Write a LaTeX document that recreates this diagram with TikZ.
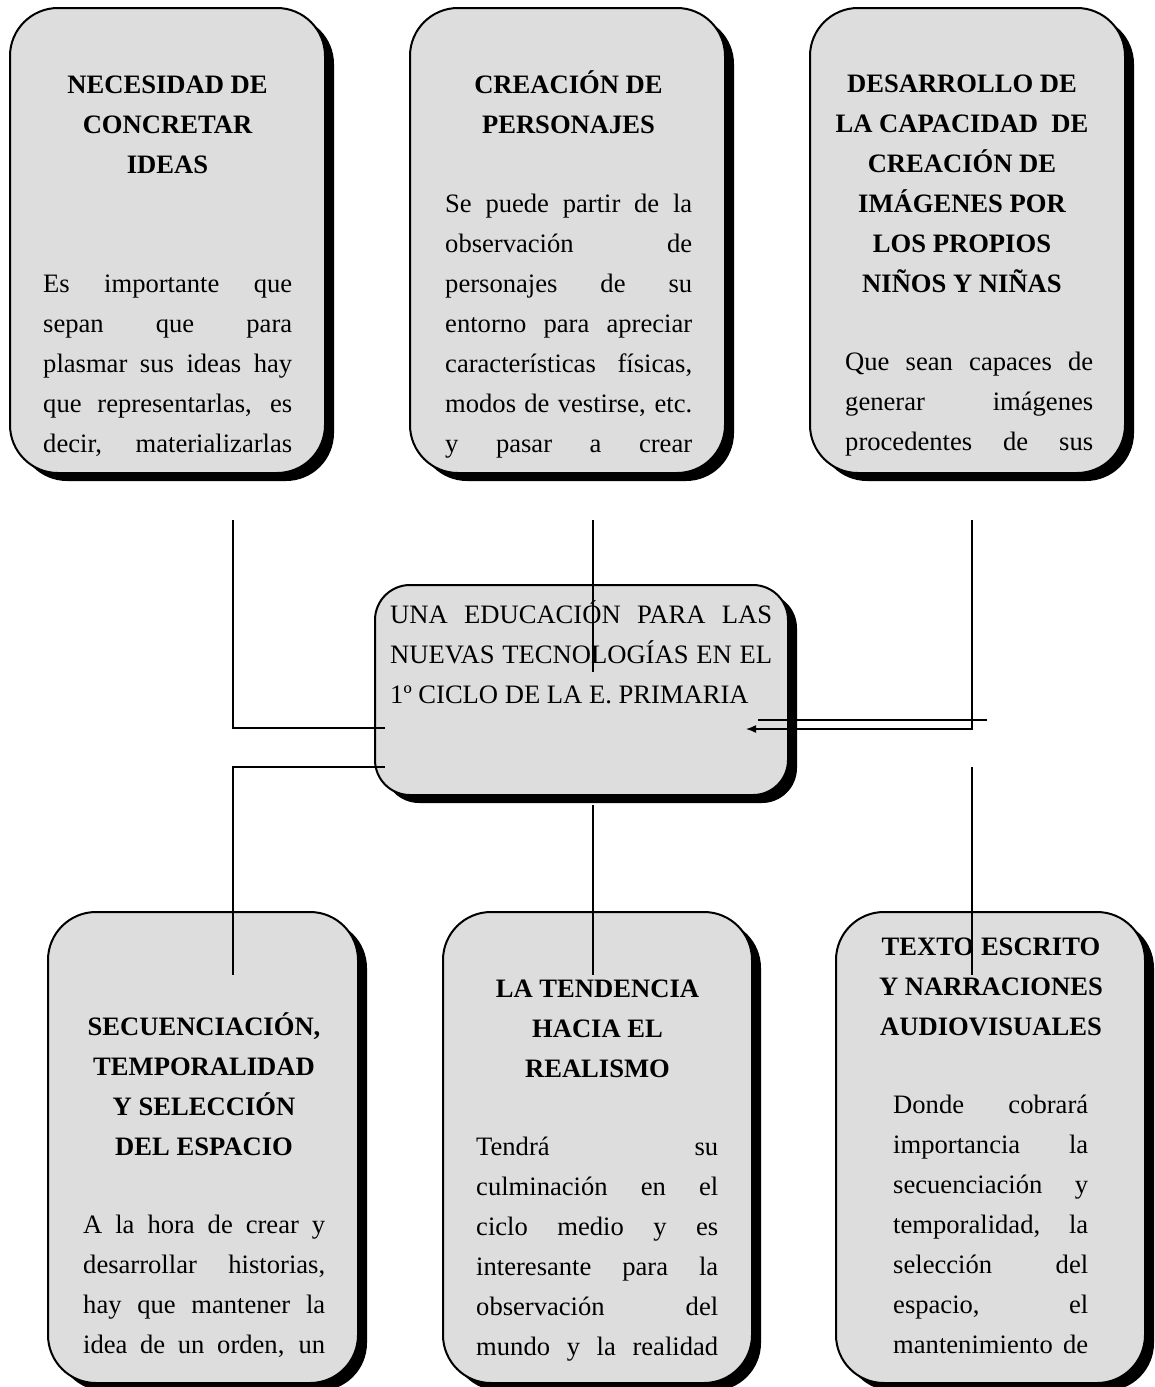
\documentclass[tikz,border=0pt]{standalone}
\usepackage{fontspec}
\setmainfont{Liberation Serif}
\usetikzlibrary{shadows,arrows.meta}
\definecolor{cardgray}{HTML}{DDDDDD}
% one fully justified line of body text
\newcommand{\justline}[1]{\makebox[\linewidth][s]{#1}}

\begin{document}
\begin{tikzpicture}[x=1pt,y=-1pt,
  card/.style={draw=black,line width=2pt,fill=cardgray,rounded corners=48pt,
    drop shadow={shadow xshift=9pt,shadow yshift=-8pt,fill=black,opacity=1}},
  hub/.style={card,rounded corners=35pt},
  title/.style={anchor=base,inner sep=0pt,font=\fontsize{26.6}{40}\selectfont\bfseries},
  body/.style={anchor=base west,inner sep=0pt,font=\fontsize{26.6}{40}\selectfont},
  link/.style={draw=black,line width=1.4pt}]

\useasboundingbox (0,0) rectangle (1155,1387);

% ---- upper cards ----
\node[card,minimum width=315pt,minimum height=465pt] (box1) at (167.5,240.5) {};
\node[title] (t1) at (167.5,93) {\parbox[t]{300pt}{\centering NECESIDAD DE\\CONCRETAR\\IDEAS}};
\node[body] (b1) at (43,292) {\parbox[t]{249pt}{%
  \justline{Es importante que}\\
  \justline{sepan que para}\\
  \justline{plasmar sus ideas hay}\\
  \justline{que representarlas, es}\\
  \justline{decir, materializarlas}}};

\node[card,minimum width=315pt,minimum height=465pt] (box2) at (567.5,240.5) {};
\node[title] (t2) at (568.5,93) {\parbox[t]{300pt}{\centering CREACIÓN DE\\PERSONAJES}};
\node[body] (b2) at (445,212) {\parbox[t]{247pt}{%
  \justline{Se puede partir de la}\\
  \justline{observación de}\\
  \justline{personajes de su}\\
  \justline{entorno para apreciar}\\
  \justline{características físicas,}\\
  \justline{modos de vestirse, etc.}\\
  \justline{y pasar a crear}}};

\node[card,minimum width=315pt,minimum height=465pt] (box3) at (967.5,240.5) {};
\node[title] (t3) at (962,92) {\parbox[t]{310pt}{\centering DESARROLLO DE\\LA CAPACIDAD~ DE\\CREACIÓN DE\\IMÁGENES POR\\LOS PROPIOS\\NIÑOS Y NIÑAS}};
\node[body] (b3) at (845,370) {\parbox[t]{248pt}{%
  \justline{Que sean capaces de}\\
  \justline{generar imágenes}\\
  \justline{procedentes de sus}}};

% ---- central card ----
\node[hub,minimum width=413pt,minimum height=210pt] (hub) at (581.5,690) {};
\node[body] (th) at (390,623) {\parbox[t]{382pt}{%
  \justline{UNA EDUCACIÓN PARA LAS}\\
  \justline{NUEVAS TECNOLOGÍAS EN EL}\\
  1º CICLO DE LA E. PRIMARIA}};

% ---- lower cards ----
\node[card,minimum width=310pt,minimum height=471pt] (box4) at (203,1147.5) {};
\node[title] (t4) at (204,1035) {\parbox[t]{300pt}{\centering SECUENCIACIÓN,\\TEMPORALIDAD\\Y SELECCIÓN\\DEL ESPACIO}};
\node[body] (b4) at (83,1233) {\parbox[t]{242pt}{%
  \justline{A la hora de crear y}\\
  \justline{desarrollar historias,}\\
  \justline{hay que mantener la}\\
  \justline{idea de un orden, un}}};

\node[card,minimum width=309pt,minimum height=471pt] (box5) at (597.5,1147.5) {};
\node[title] (t5) at (597.5,997) {\parbox[t]{300pt}{\centering LA TENDENCIA\\HACIA EL\\REALISMO}};
\node[body] (b5) at (476,1155) {\parbox[t]{242pt}{%
  \justline{Tendrá su}\\
  \justline{culminación en el}\\
  \justline{ciclo medio y es}\\
  \justline{interesante para la}\\
  \justline{observación del}\\
  \justline{mundo y la realidad}}};

\node[card,minimum width=309pt,minimum height=471pt] (box6) at (990.5,1147.5) {};
\node[title] (t6) at (991,955) {\parbox[t]{300pt}{\centering TEXTO ESCRITO\\Y NARRACIONES\\AUDIOVISUALES}};
\node[body] (b6) at (893,1113) {\parbox[t]{195pt}{%
  \justline{Donde cobrará}\\
  \justline{importancia la}\\
  \justline{secuenciación y}\\
  \justline{temporalidad, la}\\
  \justline{selección del}\\
  \justline{espacio, el}\\
  \justline{mantenimiento de}}};

% ---- connectors ----
\coordinate (c1s) at (233,520);  \coordinate (c1e) at (385,728);
\coordinate (c2s) at (385,767);  \coordinate (c2e) at (233,975);
\coordinate (c3s) at (593,520);  \coordinate (c3e) at (593,672);
\coordinate (c4s) at (593,805);  \coordinate (c4e) at (593,975);
\coordinate (c5s) at (972,520);  \coordinate (c5e) at (746,729);
\coordinate (c6s) at (987,720);  \coordinate (c6e) at (758,720);
\coordinate (c7s) at (972,767);  \coordinate (c7e) at (972,975);

\draw[link] (c1s) |- (c1e);
\draw[link] (c2s) -| (c2e);
\draw[link] (c3s) -- (c3e);
\draw[link] (c4s) -- (c4e);
\draw[link,-{Latex[length=10pt,width=8pt]}] (c5s) |- (c5e);
\draw[link] (c6s) -- (c6e);
\draw[link] (c7s) -- (c7e);
\end{tikzpicture}
\end{document}
